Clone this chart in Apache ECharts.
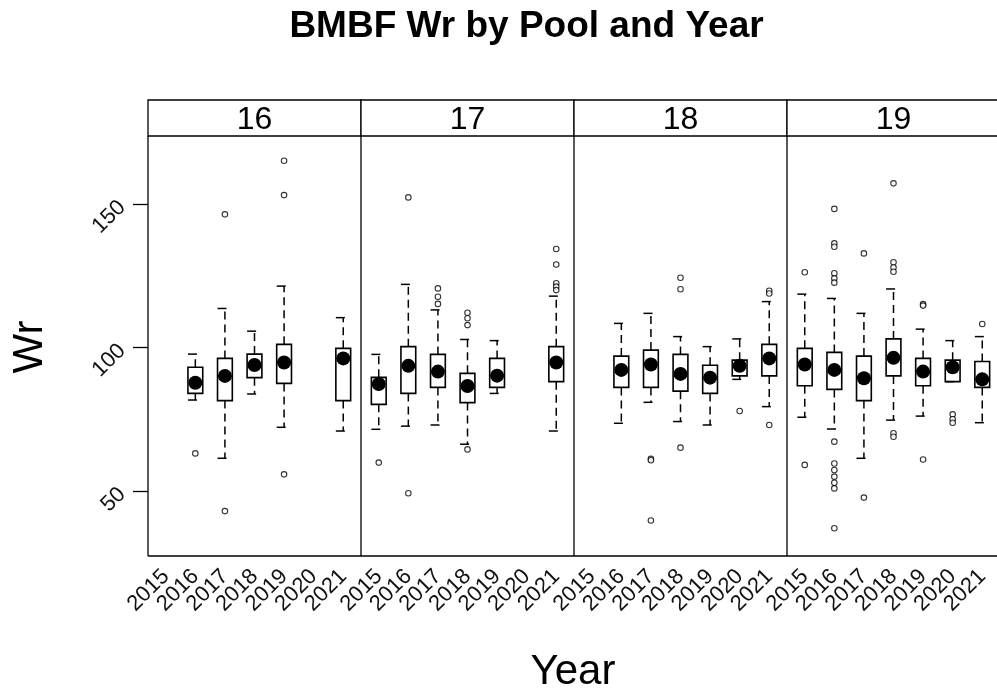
<!DOCTYPE html>
<html>
<head>
<meta charset="utf-8">
<script src="https://cdn.jsdelivr.net/npm/echarts@6/dist/echarts.min.js"></script>
<style>
html,body{margin:0;padding:0;background:#fff;}
#chart{width:997px;height:693px;}
</style>
</head>
<body>
<div id="chart"></div>
<script>
// ---- data ----
const years = ['2015', '2016', '2017', '2018', '2019', '2020', '2021'];
const pools = ['16', '17', '18', '19'];
const yTicks = [50, 100, 150];

// [year, lower whisker, Q1, median, Q3, upper whisker]
const boxes16 = [
  ['2016', 81.7, 84.0, 87.7, 93.1, 97.7],
  ['2017', 61.4, 81.5, 90.1, 96.2, 113.6],
  ['2018', 83.8, 89.5, 93.9, 97.7, 105.7],
  ['2019', 72.2, 87.5, 94.8, 101.1, 121.4],
  ['2021', 70.9, 81.5, 96.2, 99.7, 110.4]
];
const boxes17 = [
  ['2015', 71.5, 80.2, 87.3, 89.6, 97.6],
  ['2016', 72.6, 84.0, 93.6, 100.3, 122.0],
  ['2017', 73.0, 86.1, 91.6, 97.6, 113.1],
  ['2018', 66.3, 80.8, 86.6, 91.0, 102.8],
  ['2019', 84.0, 86.1, 90.2, 96.2, 102.4],
  ['2021', 70.9, 88.1, 94.8, 100.3, 117.9]
];
const boxes18 = [
  ['2016', 73.6, 86.1, 92.2, 97.0, 108.4],
  ['2017', 80.9, 86.1, 94.1, 99.1, 111.9],
  ['2018', 74.2, 84.8, 90.8, 97.6, 103.8],
  ['2019', 73.0, 84.0, 89.5, 93.8, 100.3],
  ['2020', 88.9, 90.1, 93.6, 95.6, 103.0],
  ['2021', 79.4, 90.1, 96.2, 101.1, 116.0]
];
const boxes19 = [
  ['2015', 75.7, 86.7, 94.1, 99.7, 118.6],
  ['2016', 71.6, 85.4, 92.2, 98.3, 117.1],
  ['2017', 61.4, 81.5, 89.3, 97.0, 111.9],
  ['2018', 74.7, 90.1, 96.4, 103.0, 120.4],
  ['2019', 76.1, 86.7, 91.6, 96.2, 106.4],
  ['2020', 88.1, 88.1, 93.1, 95.6, 102.4],
  ['2021', 73.8, 86.1, 88.9, 95.1, 103.8]
];

// [year, value]
const outliers16 = [
  ['2016', 63.1], ['2017', 146.4], ['2017', 43.0],
  ['2019', 165.1], ['2019', 153.1], ['2019', 55.8]
];
const outliers17 = [
  ['2015', 59.9], ['2016', 152.3], ['2016', 49.2],
  ['2017', 120.6], ['2017', 117.7], ['2017', 115.2],
  ['2018', 112.1], ['2018', 110.2], ['2018', 107.8], ['2018', 64.5],
  ['2021', 134.3], ['2021', 128.9], ['2021', 122.4], ['2021', 121.2], ['2021', 120.0]
];
const outliers18 = [
  ['2017', 61.2], ['2017', 60.7], ['2017', 39.7],
  ['2018', 124.3], ['2018', 120.3], ['2018', 65.1],
  ['2020', 77.9],
  ['2021', 119.8], ['2021', 118.8], ['2021', 73.0]
];
const outliers19 = [
  ['2015', 126.2], ['2015', 59.1],
  ['2016', 148.3], ['2016', 136.3], ['2016', 135.1], ['2016', 125.9], ['2016', 124.1], ['2016', 122.6],
  ['2016', 67.2], ['2016', 59.6], ['2016', 57.3], ['2016', 55.0], ['2016', 52.9], ['2016', 50.9], ['2016', 37.0],
  ['2017', 132.8], ['2017', 47.7],
  ['2018', 157.2], ['2018', 129.7], ['2018', 127.9], ['2018', 126.4], ['2018', 70.1], ['2018', 68.9],
  ['2019', 115.1], ['2019', 114.6], ['2019', 61.0],
  ['2020', 76.7], ['2020', 75.0], ['2020', 73.8],
  ['2021', 108.2]
];

const allBoxes = [boxes16, boxes17, boxes18, boxes19];
const allOutliers = [outliers16, outliers17, outliers18, outliers19];

// ---- layout ----
const FONT = "'Liberation Sans', Arial, sans-serif";
const panelLeft = 148, panelW = 213, panelTop = 136, panelH = 420;
const stripTop = 100, stripH = 36;
const yMin = 27.35, yMax = 173.7;
const FRAME = { stroke: '#000', lineWidth: 1.3 };

const xIndex = y => years.indexOf(y) + 1;

function renderBox(params, api) {
  const xv = api.value(0);
  const pMin = api.coord([xv, api.value(1)]);
  const pQ1 = api.coord([xv, api.value(2)]);
  const pMed = api.coord([xv, api.value(3)]);
  const pQ3 = api.coord([xv, api.value(4)]);
  const pMax = api.coord([xv, api.value(5)]);
  const bw = api.size([1, 0])[0] * 0.5;
  const cx = pMed[0];
  const ws = { stroke: '#000', lineWidth: 1.5, lineDash: [8, 5], fill: null };
  const cs = { stroke: '#000', lineWidth: 1.5, lineDash: [9, 6], fill: null };
  return {
    type: 'group',
    children: [
      { type: 'line', shape: { x1: cx, y1: pQ3[1], x2: cx, y2: pMax[1] }, style: ws },
      { type: 'line', shape: { x1: cx, y1: pQ1[1], x2: cx, y2: pMin[1] }, style: ws },
      { type: 'line', shape: { x1: cx - bw / 2, y1: pMax[1], x2: cx + bw / 2, y2: pMax[1] }, style: cs },
      { type: 'line', shape: { x1: cx - bw / 2, y1: pMin[1], x2: cx + bw / 2, y2: pMin[1] }, style: cs },
      { type: 'rect', shape: { x: cx - bw / 2, y: pQ3[1], width: bw, height: pQ1[1] - pQ3[1] },
        style: { fill: 'none', stroke: '#000', lineWidth: 1.6 } },
      { type: 'circle', shape: { cx: cx, cy: pMed[1], r: 7 }, style: { fill: '#000' } }
    ]
  };
}

function xAxisFor(gridIdx, tickYears) {
  return {
    type: 'value', gridIndex: gridIdx, min: 0.4, max: 7.6, position: 'bottom', offset: 0,
    axisLine: { show: false }, axisTick: { show: false }, splitLine: { show: false },
    axisLabel: {
      customValues: tickYears.map(xIndex),
      formatter: v => years[Math.round(v) - 1],
      showMinLabel: true, showMaxLabel: true, hideOverlap: false,
      rotate: 45, margin: 17, fontSize: 22, color: '#111', fontFamily: FONT
    }
  };
}

const oddYears = years.filter((y, k) => k % 2 === 0);
const evenYears = years.filter((y, k) => k % 2 === 1);

const grids = [], xAxes = [], yAxes = [], series = [], graphics = [];
pools.forEach((p, i) => {
  const left = panelLeft + i * panelW;
  grids.push({
    left: left, top: panelTop, width: panelW, height: panelH,
    outerBoundsMode: 'none', containLabel: false, show: false
  });
  xAxes.push(xAxisFor(i, oddYears));
  xAxes.push(xAxisFor(i, evenYears));
  yAxes.push({
    type: 'value', gridIndex: i, min: yMin, max: yMax,
    axisLine: { show: false }, splitLine: { show: false },
    axisTick: { show: i === 0, customValues: yTicks, length: 15, lineStyle: { color: '#000', width: 1.3 } },
    axisLabel: {
      show: i === 0, customValues: yTicks, rotate: 45, margin: 26,
      showMinLabel: true, showMaxLabel: true,
      fontSize: 22, color: '#111', fontFamily: FONT
    }
  });
  series.push({
    type: 'custom', xAxisIndex: 2 * i, yAxisIndex: i,
    renderItem: renderBox,
    encode: { x: 0, y: [1, 2, 3, 4, 5] },
    data: allBoxes[i].map(r => [xIndex(r[0]), r[1], r[2], r[3], r[4], r[5]]),
    z: 3
  });
  series.push({
    type: 'scatter', xAxisIndex: 2 * i, yAxisIndex: i,
    symbol: 'circle', symbolSize: 5.5,
    itemStyle: { color: '#fff', borderColor: '#000', borderWidth: 1.1 },
    data: allOutliers[i].map(r => [xIndex(r[0]), r[1]]),
    z: 4
  });
  // strip
  graphics.push({
    type: 'rect', x: left, y: stripTop,
    shape: { x: 0, y: 0, width: panelW, height: stripH },
    style: Object.assign({ fill: '#fff' }, FRAME)
  });
  graphics.push({
    type: 'text', x: left + panelW / 2, y: stripTop + stripH / 2 + 2,
    style: { text: p, font: '32px ' + FONT, fill: '#000', align: 'center', verticalAlign: 'middle' }
  });
  // panel left edge
  graphics.push({
    type: 'line', shape: { x1: left, y1: panelTop, x2: left, y2: panelTop + panelH }, style: FRAME
  });
});
// panel bottom edge
graphics.push({
  type: 'line',
  shape: { x1: panelLeft, y1: panelTop + panelH, x2: panelLeft + pools.length * panelW, y2: panelTop + panelH },
  style: FRAME
});

graphics.push({
  type: 'text', x: 526.5, y: 27,
  style: { text: 'BMBF Wr by Pool and Year', font: 'bold 37px ' + FONT, fill: '#000',
    align: 'center', verticalAlign: 'middle' }
});
graphics.push({
  type: 'text', x: 573, y: 672,
  style: { text: 'Year', font: '42px ' + FONT, fill: '#000', align: 'center', verticalAlign: 'middle' }
});
graphics.push({
  type: 'text', x: 30, y: 347, rotation: Math.PI / 2,
  style: { text: 'Wr', font: '42px ' + FONT, fill: '#000', align: 'center', verticalAlign: 'middle' }
});

const chart = echarts.init(document.getElementById('chart'), null, { renderer: 'canvas' });
chart.setOption({
  animation: false,
  backgroundColor: '#fff',
  grid: grids,
  xAxis: xAxes,
  yAxis: yAxes,
  series: series,
  graphic: graphics
});
</script>
</body>
</html>
